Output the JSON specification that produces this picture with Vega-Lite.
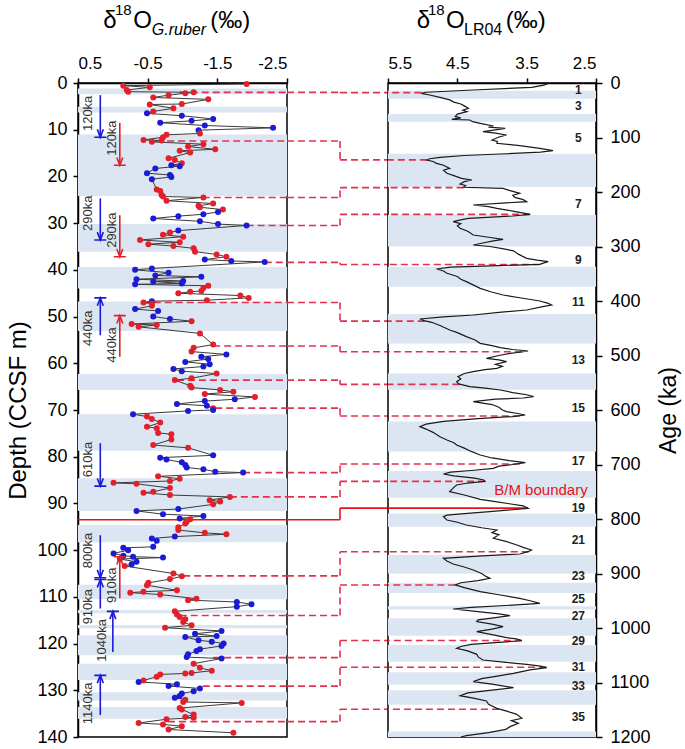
{
"$schema": "https://vega.github.io/schema/vega-lite/v6.json",
"autosize": {"type": "none"},
"padding": {"left": 78, "top": 83, "right": 607, "bottom": 666},
"background": "white",
"spacing": 0,
"bounds": "flush",
"config": {
 "font": "Liberation Sans",
 "view": {"stroke": "black", "strokeWidth": 1.5},
 "axis": {"grid": false, "domainColor": "black", "domainWidth": 1.5, "tickColor": "black", "tickWidth": 1.5, "labelColor": "black", "titleColor": "black", "labelFont": "Liberation Sans", "titleFont": "Liberation Sans", "titleFontWeight": "normal"}
},
"datasets": {
 "gruber": [
{"depth":0.2,"d18O":-1.92,"group":"red"},{"depth":0.57,"d18O":-0.15,"group":"red"},{"depth":0.93,"d18O":-0.53,"group":"red"},{"depth":1.5,"d18O":-0.2,"group":"red"},{"depth":1.86,"d18O":-0.22,"group":"red"},{"depth":2.0,"d18O":-1.16,"group":"red"},{"depth":2.2,"d18O":-1.04,"group":"red"},{"depth":2.6,"d18O":-0.8,"group":"red"},{"depth":3.1,"d18O":-0.58,"group":"red"},{"depth":3.5,"d18O":-1.37,"group":"red"},{"depth":4.5,"d18O":-0.99,"group":"red"},{"depth":4.6,"d18O":-0.53,"group":"red"},{"depth":5.4,"d18O":-0.87,"group":"red"},{"depth":6.1,"d18O":-0.58,"group":"red"},
{"depth":6.5,"d18O":-0.49,"group":"blue"},{"depth":7.0,"d18O":-0.99,"group":"blue"},{"depth":7.7,"d18O":-1.44,"group":"blue"},{"depth":8.1,"d18O":-1.13,"group":"blue"},{"depth":8.5,"d18O":-0.68,"group":"blue"},{"depth":9.1,"d18O":-1.32,"group":"blue"},{"depth":9.6,"d18O":-2.3,"group":"blue"},{"depth":10.1,"d18O":-1.23,"group":"blue"},
{"depth":10.8,"d18O":-1.25,"group":"red"},{"depth":11.1,"d18O":-0.77,"group":"red"},{"depth":11.6,"d18O":-0.72,"group":"red"},{"depth":12.2,"d18O":-0.44,"group":"red"},{"depth":12.3,"d18O":-0.7,"group":"red"},{"depth":12.6,"d18O":-0.56,"group":"red"},{"depth":13.1,"d18O":-1.3,"group":"red"},{"depth":13.6,"d18O":-1.08,"group":"red"},{"depth":14.2,"d18O":-1.47,"group":"red"},{"depth":14.5,"d18O":-0.96,"group":"red"},{"depth":14.9,"d18O":-1.11,"group":"red"},{"depth":16.1,"d18O":-0.8,"group":"red"},{"depth":16.5,"d18O":-0.89,"group":"red"},{"depth":17.2,"d18O":-0.99,"group":"red"},
{"depth":17.6,"d18O":-0.84,"group":"blue"},{"depth":17.8,"d18O":-0.96,"group":"blue"},{"depth":18.3,"d18O":-0.61,"group":"blue"},{"depth":19.3,"d18O":-0.49,"group":"blue"},{"depth":19.7,"d18O":-0.82,"group":"blue"},{"depth":20.1,"d18O":-0.84,"group":"blue"},{"depth":20.6,"d18O":-0.56,"group":"blue"},
{"depth":22.8,"d18O":-0.63,"group":"red"},{"depth":23.1,"d18O":-0.68,"group":"red"},{"depth":24.0,"d18O":-0.7,"group":"red"},{"depth":24.3,"d18O":-0.72,"group":"red"},{"depth":24.5,"d18O":-1.3,"group":"red"},{"depth":25.2,"d18O":-0.77,"group":"red"},{"depth":25.8,"d18O":-1.44,"group":"red"},{"depth":26.3,"d18O":-1.23,"group":"red"},{"depth":26.6,"d18O":-1.25,"group":"red"},{"depth":27.1,"d18O":-1.58,"group":"red"},
{"depth":27.6,"d18O":-1.51,"group":"blue"},{"depth":28.1,"d18O":-1.3,"group":"blue"},{"depth":28.5,"d18O":-0.94,"group":"blue"},{"depth":29.0,"d18O":-0.58,"group":"blue"},{"depth":29.6,"d18O":-1.25,"group":"blue"},{"depth":30.2,"d18O":-1.51,"group":"blue"},{"depth":30.5,"d18O":-1.92,"group":"blue"},{"depth":31.6,"d18O":-0.94,"group":"blue"},
{"depth":32.0,"d18O":-0.82,"group":"red"},{"depth":32.5,"d18O":-0.72,"group":"red"},{"depth":32.9,"d18O":-1.01,"group":"red"},{"depth":33.6,"d18O":-0.39,"group":"red"},{"depth":34.1,"d18O":-0.96,"group":"red"},{"depth":34.5,"d18O":-0.51,"group":"red"},{"depth":34.9,"d18O":-0.87,"group":"red"},{"depth":35.4,"d18O":-1.16,"group":"red"},{"depth":36.1,"d18O":-1.18,"group":"red"},{"depth":36.7,"d18O":-1.49,"group":"red"},{"depth":37.2,"d18O":-1.63,"group":"red"},
{"depth":37.8,"d18O":-1.32,"group":"blue"},{"depth":38.1,"d18O":-1.7,"group":"blue"},{"depth":38.3,"d18O":-2.18,"group":"blue"},{"depth":39.7,"d18O":-0.56,"group":"blue"},{"depth":40.0,"d18O":-0.32,"group":"blue"},{"depth":40.6,"d18O":-0.8,"group":"blue"},{"depth":41.2,"d18O":-0.61,"group":"blue"},{"depth":41.5,"d18O":-1.27,"group":"blue"},{"depth":42.0,"d18O":-0.34,"group":"blue"},{"depth":42.4,"d18O":-1.01,"group":"blue"},{"depth":42.5,"d18O":-0.58,"group":"blue"},{"depth":42.9,"d18O":-0.99,"group":"blue"},{"depth":43.1,"d18O":-0.32,"group":"blue"},
{"depth":43.4,"d18O":-1.37,"group":"red"},{"depth":43.9,"d18O":-1.3,"group":"red"},{"depth":44.5,"d18O":-1.27,"group":"red"},{"depth":44.7,"d18O":-1.11,"group":"red"},{"depth":45.0,"d18O":-0.94,"group":"red"},{"depth":45.5,"d18O":-1.83,"group":"red"},{"depth":46.0,"d18O":-1.95,"group":"red"},{"depth":46.5,"d18O":-1.35,"group":"red"},
{"depth":46.7,"d18O":-0.56,"group":"blue"},
{"depth":47.0,"d18O":-0.44,"group":"red"},{"depth":47.2,"d18O":-0.56,"group":"red"},{"depth":47.7,"d18O":-0.56,"group":"red"},
{"depth":48.4,"d18O":-0.32,"group":"blue"},{"depth":48.8,"d18O":-0.65,"group":"blue"},{"depth":50.0,"d18O":-0.58,"group":"blue"},{"depth":50.5,"d18O":-0.82,"group":"blue"},
{"depth":51.0,"d18O":-1.13,"group":"red"},{"depth":51.6,"d18O":-0.27,"group":"red"},{"depth":51.8,"d18O":-0.63,"group":"red"},{"depth":52.2,"d18O":-0.37,"group":"red"},{"depth":53.6,"d18O":-1.25,"group":"red"},{"depth":56.0,"d18O":-1.44,"group":"red"},{"depth":56.7,"d18O":-1.16,"group":"red"},{"depth":57.5,"d18O":-1.13,"group":"red"},
{"depth":58.1,"d18O":-1.63,"group":"blue"},{"depth":58.6,"d18O":-1.27,"group":"blue"},{"depth":59.1,"d18O":-1.37,"group":"blue"},{"depth":59.7,"d18O":-1.04,"group":"blue"},{"depth":60.2,"d18O":-1.39,"group":"blue"},{"depth":60.7,"d18O":-1.3,"group":"blue"},{"depth":61.2,"d18O":-0.87,"group":"blue"},{"depth":61.7,"d18O":-0.99,"group":"blue"},
{"depth":62.2,"d18O":-1.49,"group":"red"},{"depth":63.2,"d18O":-1.13,"group":"red"},{"depth":63.6,"d18O":-0.89,"group":"red"},{"depth":64.8,"d18O":-1.11,"group":"red"},{"depth":65.2,"d18O":-1.13,"group":"red"},{"depth":65.7,"d18O":-1.54,"group":"red"},{"depth":66.1,"d18O":-1.73,"group":"red"},{"depth":66.6,"d18O":-1.32,"group":"red"},{"depth":67.2,"d18O":-2.04,"group":"red"},
{"depth":67.7,"d18O":-1.75,"group":"blue"},{"depth":68.1,"d18O":-1.32,"group":"blue"},{"depth":68.7,"d18O":-0.92,"group":"blue"},{"depth":69.1,"d18O":-1.35,"group":"blue"},
{"depth":69.6,"d18O":-1.44,"group":"red"},
{"depth":70.0,"d18O":-1.44,"group":"blue"},{"depth":70.2,"d18O":-1.08,"group":"blue"},{"depth":70.9,"d18O":-0.29,"group":"blue"},
{"depth":71.4,"d18O":-0.49,"group":"red"},{"depth":71.9,"d18O":-0.56,"group":"red"},{"depth":72.7,"d18O":-0.68,"group":"red"},{"depth":73.6,"d18O":-0.49,"group":"red"},{"depth":73.9,"d18O":-0.63,"group":"red"},{"depth":74.9,"d18O":-0.65,"group":"red"},{"depth":75.2,"d18O":-0.84,"group":"red"},{"depth":76.3,"d18O":-0.84,"group":"red"},{"depth":77.5,"d18O":-0.58,"group":"red"},{"depth":78.1,"d18O":-1.08,"group":"red"},
{"depth":79.7,"d18O":-1.44,"group":"blue"},{"depth":80.2,"d18O":-0.68,"group":"blue"},{"depth":80.6,"d18O":-0.77,"group":"blue"},{"depth":81.2,"d18O":-0.99,"group":"blue"},{"depth":81.8,"d18O":-1.04,"group":"blue"},{"depth":82.3,"d18O":-1.06,"group":"blue"},{"depth":82.7,"d18O":-1.3,"group":"blue"},{"depth":83.2,"d18O":-1.47,"group":"blue"},{"depth":83.4,"d18O":-1.87,"group":"blue"},
{"depth":84.2,"d18O":-0.65,"group":"red"},{"depth":84.7,"d18O":-0.96,"group":"red"},{"depth":85.2,"d18O":-0.82,"group":"red"},{"depth":85.6,"d18O":-0.01,"group":"red"},{"depth":85.8,"d18O":-0.34,"group":"red"},{"depth":86.7,"d18O":-0.82,"group":"red"},{"depth":87.5,"d18O":-0.58,"group":"red"},{"depth":87.7,"d18O":-0.44,"group":"red"},{"depth":88.2,"d18O":-0.82,"group":"red"},{"depth":88.6,"d18O":-1.68,"group":"red"},{"depth":89.3,"d18O":-1.39,"group":"red"},{"depth":89.6,"d18O":-1.54,"group":"red"},{"depth":90.2,"d18O":-1.44,"group":"red"},
{"depth":91.2,"d18O":-0.94,"group":"blue"},{"depth":91.6,"d18O":-0.34,"group":"blue"},{"depth":92.3,"d18O":-0.72,"group":"blue"},{"depth":92.7,"d18O":-1.3,"group":"blue"},{"depth":93.2,"d18O":-0.96,"group":"blue"},
{"depth":93.4,"d18O":-1.11,"group":"red"},{"depth":93.9,"d18O":-1.06,"group":"red"},{"depth":94.3,"d18O":-1.04,"group":"red"},{"depth":95.1,"d18O":-0.94,"group":"red"},{"depth":95.7,"d18O":-0.94,"group":"red"},{"depth":96.3,"d18O":-1.32,"group":"red"},{"depth":96.6,"d18O":-1.63,"group":"red"},
{"depth":97.1,"d18O":-0.89,"group":"blue"},{"depth":97.5,"d18O":-0.56,"group":"blue"},{"depth":98.0,"d18O":-0.63,"group":"blue"},{"depth":99.3,"d18O":-0.58,"group":"blue"},{"depth":99.5,"d18O":-0.15,"group":"blue"},{"depth":100.0,"d18O":-0.22,"group":"blue"},{"depth":100.7,"d18O":-0.01,"group":"blue"},{"depth":101.2,"d18O":-0.15,"group":"blue"},{"depth":101.4,"d18O":-0.29,"group":"blue"},{"depth":101.6,"d18O":-0.72,"group":"blue"},
{"depth":101.9,"d18O":-0.1,"group":"red"},
{"depth":102.5,"d18O":-0.34,"group":"blue"},{"depth":103.0,"d18O":-0.27,"group":"blue"},
{"depth":103.4,"d18O":-0.17,"group":"red"},{"depth":105.0,"d18O":-0.87,"group":"red"},{"depth":105.6,"d18O":-0.99,"group":"red"},{"depth":106.2,"d18O":-0.82,"group":"red"},{"depth":107.0,"d18O":-0.51,"group":"red"},{"depth":107.5,"d18O":-0.49,"group":"red"},{"depth":108.6,"d18O":-0.92,"group":"red"},{"depth":108.9,"d18O":-0.44,"group":"red"},{"depth":109.1,"d18O":-0.25,"group":"red"},{"depth":109.5,"d18O":-0.68,"group":"red"},{"depth":110.4,"d18O":-1.2,"group":"red"},{"depth":110.7,"d18O":-1.08,"group":"red"},
{"depth":111.1,"d18O":-1.78,"group":"blue"},{"depth":111.6,"d18O":-1.99,"group":"blue"},{"depth":112.1,"d18O":-1.78,"group":"blue"},
{"depth":113.1,"d18O":-0.89,"group":"red"},{"depth":113.8,"d18O":-0.92,"group":"red"},{"depth":114.3,"d18O":-0.96,"group":"red"},{"depth":114.8,"d18O":-1.04,"group":"red"},{"depth":115.4,"d18O":-1.01,"group":"red"},{"depth":116.1,"d18O":-1.13,"group":"red"},{"depth":116.6,"d18O":-0.75,"group":"red"},
{"depth":117.3,"d18O":-1.56,"group":"blue"},{"depth":117.9,"d18O":-1.18,"group":"blue"},{"depth":118.4,"d18O":-1.49,"group":"blue"},{"depth":118.6,"d18O":-1.04,"group":"blue"},{"depth":119.3,"d18O":-1.23,"group":"blue"},{"depth":119.6,"d18O":-1.42,"group":"blue"},{"depth":120.0,"d18O":-1.59,"group":"blue"},{"depth":120.5,"d18O":-1.56,"group":"blue"},{"depth":121.2,"d18O":-1.25,"group":"blue"},{"depth":121.6,"d18O":-1.2,"group":"blue"},{"depth":122.3,"d18O":-1.08,"group":"blue"},{"depth":122.9,"d18O":-1.06,"group":"blue"},{"depth":123.2,"d18O":-1.56,"group":"blue"},
{"depth":124.3,"d18O":-1.16,"group":"red"},{"depth":125.2,"d18O":-1.25,"group":"red"},{"depth":125.8,"d18O":-1.42,"group":"red"},{"depth":126.3,"d18O":-1.13,"group":"red"},{"depth":126.4,"d18O":-1.04,"group":"red"},{"depth":126.6,"d18O":-0.68,"group":"red"},{"depth":127.1,"d18O":-0.63,"group":"red"},{"depth":127.9,"d18O":-0.44,"group":"red"},
{"depth":128.2,"d18O":-0.37,"group":"blue"},{"depth":128.7,"d18O":-0.92,"group":"blue"},{"depth":129.1,"d18O":-0.8,"group":"blue"},{"depth":129.6,"d18O":-1.25,"group":"blue"},{"depth":130.2,"d18O":-1.16,"group":"blue"},{"depth":130.7,"d18O":-0.99,"group":"blue"},{"depth":131.2,"d18O":-0.96,"group":"blue"},{"depth":131.6,"d18O":-0.89,"group":"blue"},
{"depth":132.0,"d18O":-1.04,"group":"red"},{"depth":132.5,"d18O":-1.01,"group":"red"},{"depth":132.7,"d18O":-1.85,"group":"red"},{"depth":133.8,"d18O":-0.96,"group":"red"},{"depth":134.1,"d18O":-0.99,"group":"red"},{"depth":135.2,"d18O":-1.16,"group":"red"},{"depth":135.7,"d18O":-1.04,"group":"red"},{"depth":135.9,"d18O":-1.16,"group":"red"},{"depth":136.2,"d18O":-0.77,"group":"red"},{"depth":137.0,"d18O":-0.37,"group":"red"},{"depth":137.3,"d18O":-0.72,"group":"red"},{"depth":137.7,"d18O":-0.99,"group":"red"},{"depth":138.4,"d18O":-0.8,"group":"red"},{"depth":139.1,"d18O":-1.73,"group":"red"}
 ],
 "lr04": [
{"age":0.6,"d18O":3.19},{"age":4,"d18O":3.25},{"age":8,"d18O":3.43},{"age":12.8,"d18O":4.27},{"age":17,"d18O":4.95},{"age":19,"d18O":5.02},{"age":22,"d18O":4.9},{"age":26.3,"d18O":4.75},{"age":31,"d18O":4.61},{"age":35,"d18O":4.55},{"age":38.5,"d18O":4.45},{"age":42,"d18O":4.4},{"age":46.5,"d18O":4.34},{"age":50,"d18O":4.42},{"age":52.6,"d18O":4.36},{"age":57,"d18O":4.5},{"age":61.8,"d18O":4.53},{"age":64,"d18O":4.45},{"age":66.7,"d18O":4.58},{"age":67.9,"d18O":4.32},{"age":71,"d18O":4.28},{"age":74,"d18O":4.17},{"age":78.9,"d18O":3.98},{"age":81,"d18O":4.05},{"age":83.2,"d18O":3.81},{"age":86,"d18O":3.95},{"age":89.3,"d18O":4.13},{"age":92,"d18O":3.95},{"age":95.4,"d18O":3.79},{"age":99,"d18O":3.9},{"age":104.6,"d18O":4.0},{"age":107,"d18O":3.92},{"age":110.7,"d18O":3.93},{"age":115,"d18O":3.6},{"age":119.9,"d18O":3.31},{"age":124.2,"d18O":3.12},{"age":127,"d18O":3.3},{"age":130.3,"d18O":3.88},{"age":133,"d18O":4.4},{"age":136.4,"d18O":4.75},{"age":139,"d18O":4.9},{"age":141.3,"d18O":4.94},{"age":144,"d18O":4.85},{"age":147.4,"d18O":4.8},{"age":151,"d18O":4.7},{"age":156.6,"d18O":4.61},{"age":160,"d18O":4.7},{"age":165.7,"d18O":4.65},{"age":170,"d18O":4.55},{"age":174.9,"d18O":4.44},{"age":178,"d18O":4.29},{"age":181,"d18O":4.4},{"age":185.3,"d18O":4.46},{"age":188,"d18O":4.38},{"age":191.4,"d18O":4.41},{"age":193.3,"d18O":3.84},{"age":197,"d18O":3.75},{"age":202.4,"d18O":3.6},{"age":206,"d18O":3.7},{"age":209.8,"d18O":3.67},{"age":214,"d18O":3.55},{"age":217.7,"d18O":3.5},{"age":220,"d18O":3.8},{"age":223.9,"d18O":4.27},{"age":227,"d18O":4.05},{"age":230,"d18O":3.93},{"age":235,"d18O":3.7},{"age":241,"d18O":3.45},{"age":244,"d18O":3.7},{"age":248.3,"d18O":4.34},{"age":251,"d18O":4.45},{"age":254.4,"d18O":4.56},{"age":258,"d18O":4.45},{"age":262,"d18O":4.5},{"age":266.7,"d18O":4.46},{"age":272,"d18O":4.35},{"age":278.9,"d18O":4.27},{"age":283,"d18O":4.05},{"age":286.9,"d18O":3.84},{"age":290,"d18O":4.0},{"age":294,"d18O":4.15},{"age":297.2,"d18O":4.27},{"age":300,"d18O":4.03},{"age":304,"d18O":3.85},{"age":308,"d18O":3.69},{"age":314,"d18O":3.62},{"age":321.7,"d18O":3.5},{"age":325,"d18O":3.35},{"age":327.8,"d18O":3.19},{"age":330,"d18O":3.25},{"age":332.7,"d18O":3.31},{"age":335,"d18O":3.9},{"age":338,"d18O":4.6},{"age":341.3,"d18O":4.8},{"age":345,"d18O":4.7},{"age":349.2,"d18O":4.65},{"age":355,"d18O":4.5},{"age":360,"d18O":4.45},{"age":364.5,"d18O":4.37},{"age":370,"d18O":4.28},{"age":376.8,"d18O":4.17},{"age":383,"d18O":4.02},{"age":389,"d18O":3.84},{"age":394,"d18O":3.6},{"age":400,"d18O":3.31},{"age":404,"d18O":3.2},{"age":407.3,"d18O":3.14},{"age":410,"d18O":3.25},{"age":416.5,"d18O":3.5},{"age":421,"d18O":3.9},{"age":425.7,"d18O":4.27},{"age":429,"d18O":4.7},{"age":433,"d18O":5.04},{"age":436,"d18O":4.98},{"age":439.1,"d18O":4.87},{"age":445,"d18O":4.75},{"age":453.2,"d18O":4.61},{"age":458,"d18O":4.5},{"age":465.4,"d18O":4.37},{"age":471,"d18O":4.25},{"age":477.7,"d18O":4.17},{"age":482,"d18O":4.0},{"age":485.6,"d18O":3.88},{"age":489,"d18O":3.7},{"age":491.7,"d18O":3.48},{"age":494,"d18O":3.6},{"age":496,"d18O":3.74},{"age":500,"d18O":3.9},{"age":505.2,"d18O":4.08},{"age":508,"d18O":3.9},{"age":511.3,"d18O":3.79},{"age":516,"d18O":3.95},{"age":520,"d18O":3.85},{"age":523.5,"d18O":3.93},{"age":526,"d18O":4.1},{"age":529.7,"d18O":4.27},{"age":533,"d18O":4.4},{"age":538.8,"d18O":4.49},{"age":543,"d18O":4.45},{"age":548,"d18O":4.51},{"age":552,"d18O":4.48},{"age":557.2,"d18O":4.32},{"age":560,"d18O":4.1},{"age":563.3,"d18O":3.88},{"age":568,"d18O":3.7},{"age":572,"d18O":3.5},{"age":575.5,"d18O":3.4},{"age":578,"d18O":3.55},{"age":580,"d18O":3.95},{"age":584.7,"d18O":4.27},{"age":590,"d18O":4.0},{"age":595,"d18O":3.9},{"age":600,"d18O":3.85},{"age":603,"d18O":3.79},{"age":606,"d18O":3.65},{"age":609.2,"d18O":3.52},{"age":612,"d18O":3.7},{"age":616,"d18O":4.2},{"age":621,"d18O":4.7},{"age":626,"d18O":4.95},{"age":630.6,"d18O":5.04},{"age":635,"d18O":4.95},{"age":641,"d18O":4.85},{"age":649,"d18O":4.75},{"age":655,"d18O":4.65},{"age":660,"d18O":4.55},{"age":664.3,"d18O":4.51},{"age":670,"d18O":4.4},{"age":676,"d18O":4.3},{"age":682.6,"d18O":4.17},{"age":688,"d18O":4.0},{"age":693,"d18O":3.75},{"age":696.7,"d18O":3.52},{"age":700,"d18O":3.7},{"age":703,"d18O":3.9},{"age":707.2,"d18O":3.98},{"age":711,"d18O":4.3},{"age":714,"d18O":4.6},{"age":717.4,"d18O":4.7},{"age":721,"d18O":4.55},{"age":725,"d18O":4.25},{"age":728.4,"d18O":4.12},{"age":731,"d18O":4.1},{"age":734,"d18O":4.35},{"age":737.6,"d18O":4.51},{"age":742,"d18O":4.55},{"age":749.8,"d18O":4.61},{"age":756,"d18O":4.4},{"age":763.9,"d18O":4.17},{"age":768,"d18O":3.95},{"age":772,"d18O":3.75},{"age":776,"d18O":3.55},{"age":780.4,"d18O":3.48},{"age":783,"d18O":3.7},{"age":786.5,"d18O":4.03},{"age":790,"d18O":4.4},{"age":793,"d18O":4.65},{"age":795.7,"d18O":4.7},{"age":801.8,"d18O":4.65},{"age":806,"d18O":4.5},{"age":811,"d18O":4.37},{"age":816,"d18O":4.15},{"age":820.2,"d18O":3.93},{"age":825,"d18O":4.0},{"age":829,"d18O":3.9},{"age":835.5,"d18O":3.98},{"age":841,"d18O":3.8},{"age":847.7,"d18O":3.64},{"age":852,"d18O":3.55},{"age":856.9,"d18O":3.43},{"age":860,"d18O":3.48},{"age":864.2,"d18O":3.6},{"age":868,"d18O":4.2},{"age":872.2,"d18O":4.7},{"age":877,"d18O":4.65},{"age":882.6,"d18O":4.56},{"age":888,"d18O":4.4},{"age":893.6,"d18O":4.27},{"age":900,"d18O":4.15},{"age":905.8,"d18O":4.08},{"age":908.9,"d18O":4.03},{"age":913,"d18O":4.2},{"age":917,"d18O":4.45},{"age":921,"d18O":4.53},{"age":926,"d18O":4.4},{"age":933.3,"d18O":4.17},{"age":939,"d18O":3.9},{"age":945.6,"d18O":3.6},{"age":950,"d18O":3.45},{"age":954.7,"d18O":3.31},{"age":958,"d18O":3.7},{"age":962,"d18O":4.3},{"age":965.1,"d18O":4.56},{"age":970,"d18O":4.2},{"age":974,"d18O":3.9},{"age":977.4,"d18O":3.74},{"age":981,"d18O":3.95},{"age":985,"d18O":4.2},{"age":988.4,"d18O":4.22},{"age":993,"d18O":4.0},{"age":997.6,"d18O":3.84},{"age":1002,"d18O":4.0},{"age":1006.7,"d18O":4.22},{"age":1012,"d18O":4.0},{"age":1017.7,"d18O":3.79},{"age":1020,"d18O":3.65},{"age":1023.2,"d18O":3.57},{"age":1026,"d18O":3.85},{"age":1030,"d18O":4.3},{"age":1034,"d18O":4.45},{"age":1037.3,"d18O":4.51},{"age":1042,"d18O":4.35},{"age":1048.3,"d18O":4.22},{"age":1053,"d18O":4.2},{"age":1058.7,"d18O":4.13},{"age":1063,"d18O":3.8},{"age":1066.7,"d18O":3.5},{"age":1070,"d18O":3.3},{"age":1072.8,"d18O":3.21},{"age":1077,"d18O":3.45},{"age":1083.2,"d18O":3.69},{"age":1088,"d18O":3.9},{"age":1093,"d18O":4.15},{"age":1098.5,"d18O":4.27},{"age":1103,"d18O":4.0},{"age":1109.5,"d18O":3.69},{"age":1114,"d18O":4.0},{"age":1119,"d18O":4.35},{"age":1124.2,"d18O":4.46},{"age":1129,"d18O":4.25},{"age":1134,"d18O":4.08},{"age":1140,"d18O":4.05},{"age":1147.4,"d18O":3.93},{"age":1152,"d18O":3.8},{"age":1158,"d18O":3.65},{"age":1165.7,"d18O":3.57},{"age":1170,"d18O":3.72},{"age":1175,"d18O":3.62},{"age":1181,"d18O":3.74},{"age":1186,"d18O":3.8},{"age":1192,"d18O":4.05},{"age":1197.6,"d18O":4.37},{"age":1200,"d18O":4.45}
 ],
 "gbands": [
{"top":1.2,"bottom":2.4},{"top":5.1,"bottom":6.3},{"top":11.0,"bottom":24.2},{"top":30.2,"bottom":36.1},{"top":39.4,"bottom":44.0},{"top":46.8,"bottom":53.1},{"top":62.3,"bottom":65.7},{"top":70.9,"bottom":78.7},{"top":84.6,"bottom":91.6},{"top":94.6,"bottom":98.3},{"top":107.4,"bottom":110.5},{"top":112.8,"bottom":113.5},{"top":116.0,"bottom":116.7},{"top":118.2,"bottom":122.5},{"top":124.3,"bottom":127.8},{"top":130.4,"bottom":132.2},{"top":133.6,"bottom":136.1}
 ],
 "abands": [
{"top":14,"bottom":29},{"top":57,"bottom":71},{"top":130,"bottom":191},{"top":242,"bottom":300},{"top":337,"bottom":374},{"top":424,"bottom":478},{"top":533,"bottom":563},{"top":621,"bottom":676},{"top":712,"bottom":761},{"top":790,"bottom":814},{"top":866,"bottom":900},{"top":917,"bottom":936},{"top":960,"bottom":966},{"top":982,"bottom":1014},{"top":1031,"bottom":1062},{"top":1081,"bottom":1104},{"top":1114,"bottom":1141},{"top":1190,"bottom":1200}
 ],
 "ties": [
{"depth":2.0,"gruber":-0.96,"age":17.7,"lr04":5.02,"kind":"tie"},
{"depth":12.4,"gruber":-0.78,"age":141,"lr04":4.94,"kind":"tie"},
{"depth":24.5,"gruber":-1.29,"age":192,"lr04":4.41,"kind":"tie"},
{"depth":30.5,"gruber":-1.92,"age":241,"lr04":3.45,"kind":"tie"},
{"depth":38.4,"gruber":-2.18,"age":333,"lr04":3.31,"kind":"tie"},
{"depth":47.0,"gruber":-0.43,"age":437,"lr04":4.97,"kind":"tie"},
{"depth":56.3,"gruber":-1.44,"age":493,"lr04":3.57,"kind":"tie"},
{"depth":63.6,"gruber":-0.92,"age":553,"lr04":4.47,"kind":"tie"},
{"depth":69.6,"gruber":-1.47,"age":611,"lr04":3.6,"kind":"tie"},
{"depth":83.4,"gruber":-1.87,"age":699,"lr04":3.6,"kind":"tie"},
{"depth":88.6,"gruber":-1.68,"age":731,"lr04":4.1,"kind":"tie"},
{"depth":93.5,"gruber":0.5,"age":780,"lr04":3.48,"kind":"bm"},
{"depth":105.5,"gruber":-1.01,"age":860,"lr04":3.47,"kind":"tie"},
{"depth":114.0,"gruber":-0.96,"age":921,"lr04":4.53,"kind":"tie"},
{"depth":123.0,"gruber":-1.44,"age":1023,"lr04":3.57,"kind":"tie"},
{"depth":129.1,"gruber":-1.29,"age":1072,"lr04":3.22,"kind":"tie"},
{"depth":136.7,"gruber":-0.79,"age":1149,"lr04":3.9,"kind":"tie"}
 ],
 "arrows": [
{"label":"120ka","group":"blue","dir":"down","x_arrow":0.18,"x_label":0.35,"tail":2.6,"tip":11.6,"label_y":6.5},
{"label":"120ka","group":"red","dir":"down","x_arrow":-0.1,"x_label":0.01,"tail":8.5,"tip":17.6,"label_y":11.8},
{"label":"290ka","group":"blue","dir":"down","x_arrow":0.18,"x_label":0.35,"tail":24.7,"tip":33.6,"label_y":27.9},
{"label":"290ka","group":"red","dir":"down","x_arrow":-0.1,"x_label":0.01,"tail":28.3,"tip":37.2,"label_y":31.5},
{"label":"440ka","group":"blue","dir":"up","x_arrow":0.18,"x_label":0.35,"tail":54.0,"tip":46.0,"label_y":52.5},
{"label":"440ka","group":"red","dir":"up","x_arrow":-0.1,"x_label":0.01,"tail":58.6,"tip":49.8,"label_y":56.1},
{"label":"610ka","group":"blue","dir":"down","x_arrow":0.18,"x_label":0.35,"tail":77.1,"tip":86.3,"label_y":80.6},
{"label":"800ka","group":"blue","dir":"down","x_arrow":0.18,"x_label":0.35,"tail":96.8,"tip":105.9,"label_y":100.1},
{"label":"910ka","group":"blue","dir":"up","x_arrow":0.18,"x_label":0.35,"tail":112.5,"tip":106.3,"label_y":112.1},
{"label":"910ka","group":"red","dir":"up","x_arrow":-0.1,"x_label":0.01,"tail":110.3,"tip":101.4,"label_y":107.5},
{"label":"1040ka","group":"blue","dir":"up","x_arrow":0.0,"x_label":0.16,"tail":121.8,"tip":113.1,"label_y":119.3},
{"label":"1140ka","group":"blue","dir":"up","x_arrow":0.18,"x_label":0.35,"tail":135.3,"tip":126.8,"label_y":132.8}
 ],
 "mis": [
{"age":13,"stage":"1"},{"age":42,"stage":"3"},{"age":101,"stage":"5"},{"age":222,"stage":"7"},{"age":325,"stage":"9"},{"age":402,"stage":"11"},{"age":509,"stage":"13"},{"age":597,"stage":"15"},{"age":693,"stage":"17"},{"age":779,"stage":"19"},{"age":838,"stage":"21"},{"age":904,"stage":"23"},{"age":947,"stage":"25"},{"age":978,"stage":"27"},{"age":1024,"stage":"29"},{"age":1071,"stage":"31"},{"age":1106,"stage":"33"},{"age":1163,"stage":"35"}
 ]
},
"hconcat": [
{
 "width": 209, "height": 654,
 "layer": [
  {"data": {"name": "gbands"}, "mark": {"type": "rect", "color": "#dce6f2"},
   "encoding": {
    "x": {"datum": 0.5, "type": "quantitative", "scale": {"domain": [0.5, -2.5], "nice": false, "zero": false}},
    "x2": {"datum": -2.5},
    "y": {"field": "top", "type": "quantitative", "scale": {"domain": [0, 140], "reverse": true, "nice": false, "zero": false},
      "axis": {"title": "Depth (CCSF m)", "orient": "left", "values": [0,10,20,30,40,50,60,70,80,90,100,110,120,130,140], "labelFontSize": 18, "titleFontSize": 24, "tickSize": 5, "labelPadding": 6, "titlePadding": 6}},
    "y2": {"field": "bottom"}}},
  {"data": {"name": "ties"}, "transform": [{"filter": "datum.kind == 'tie'"}],
   "mark": {"type": "rule", "color": "#e23050", "strokeDash": [7, 4], "strokeWidth": 1.6},
   "encoding": {
    "x": {"field": "gruber", "type": "quantitative", "scale": {"domain": [0.5, -2.5], "nice": false, "zero": false}},
    "x2": {"datum": -2.5},
    "y": {"field": "depth", "type": "quantitative", "scale": {"domain": [0, 140], "reverse": true, "nice": false, "zero": false}}}},
  {"data": {"name": "ties"}, "transform": [{"filter": "datum.kind == 'bm'"}],
   "mark": {"type": "rule", "color": "#e4141b", "strokeWidth": 1.6},
   "encoding": {
    "x": {"field": "gruber", "type": "quantitative", "scale": {"domain": [0.5, -2.5], "nice": false, "zero": false}},
    "x2": {"datum": -2.5},
    "y": {"field": "depth", "type": "quantitative", "scale": {"domain": [0, 140], "reverse": true, "nice": false, "zero": false}}}},
  {"data": {"name": "gruber"}, "mark": {"type": "line", "color": "#3a3a3a", "strokeWidth": 1},
   "encoding": {
    "x": {"field": "d18O", "type": "quantitative", "scale": {"domain": [0.5, -2.5], "nice": false, "zero": false},
      "axis": {"orient": "top", "title": null, "values": [0.5, -0.5, -1.5, -2.5], "labelFontSize": 17, "tickSize": 5, "labelPadding": 6, "labelExpr": "(datum.value < 0 ? '-' : '') + format(abs(datum.value), '.1f')"}},
    "y": {"field": "depth", "type": "quantitative", "scale": {"domain": [0, 140], "reverse": true, "nice": false, "zero": false}},
    "order": {"field": "depth", "type": "quantitative"}}},
  {"data": {"name": "gruber"}, "mark": {"type": "circle", "size": 36, "opacity": 1},
   "encoding": {
    "x": {"field": "d18O", "type": "quantitative", "scale": {"domain": [0.5, -2.5], "nice": false, "zero": false}},
    "y": {"field": "depth", "type": "quantitative", "scale": {"domain": [0, 140], "reverse": true, "nice": false, "zero": false}},
    "color": {"field": "group", "type": "nominal", "scale": {"domain": ["blue", "red"], "range": ["#1b1bd6", "#e3202a"]}, "legend": null}}},
  {"data": {"name": "arrows"}, "mark": {"type": "rule", "strokeWidth": 1.6},
   "encoding": {
    "x": {"field": "x_arrow", "type": "quantitative", "scale": {"domain": [0.5, -2.5], "nice": false, "zero": false}},
    "y": {"field": "tail", "type": "quantitative", "scale": {"domain": [0, 140], "reverse": true, "nice": false, "zero": false}},
    "y2": {"field": "tip"},
    "color": {"field": "group", "type": "nominal", "scale": {"domain": ["blue", "red"], "range": ["#1b1bd6", "#e3202a"]}, "legend": null}}},
  {"data": {"name": "arrows"}, "mark": {"type": "point", "filled": false, "size": 144, "strokeWidth": 1.6, "opacity": 1},
   "encoding": {
    "x": {"field": "x_arrow", "type": "quantitative", "scale": {"domain": [0.5, -2.5], "nice": false, "zero": false}},
    "y": {"field": "tip", "type": "quantitative", "scale": {"domain": [0, 140], "reverse": true, "nice": false, "zero": false}},
    "shape": {"field": "dir", "type": "nominal", "scale": {"domain": ["down", "up"], "range": ["M-0.5,-1.3L0,0L0.5,-1.3M-1,0L1,0", "M-0.5,1.3L0,0L0.5,1.3M-1,0L1,0"]}, "legend": null},
    "color": {"field": "group", "type": "nominal", "scale": {"domain": ["blue", "red"], "range": ["#1b1bd6", "#e3202a"]}, "legend": null}}},
  {"data": {"name": "arrows"}, "mark": {"type": "text", "angle": 270, "fontSize": 13, "color": "#333333", "align": "center", "baseline": "middle"},
   "encoding": {
    "x": {"field": "x_label", "type": "quantitative", "scale": {"domain": [0.5, -2.5], "nice": false, "zero": false}},
    "y": {"field": "label_y", "type": "quantitative", "scale": {"domain": [0, 140], "reverse": true, "nice": false, "zero": false}},
    "text": {"field": "label", "type": "nominal"}}},
  {"data": {"values": [{"t": "δ"}]}, "mark": {"type": "text", "fontSize": 24, "align": "left", "baseline": "alphabetic", "color": "black"},
   "encoding": {"text": {"field": "t", "type": "nominal"}, "x": {"datum": 0.137, "type": "quantitative", "scale": {"domain": [0.5, -2.5], "nice": false, "zero": false}}, "y": {"datum": -11.77, "type": "quantitative", "scale": {"domain": [0, 140], "reverse": true, "nice": false, "zero": false}}}},
  {"data": {"values": [{"t": "18"}]}, "mark": {"type": "text", "fontSize": 15, "align": "left", "baseline": "alphabetic", "color": "black"},
   "encoding": {"text": {"field": "t", "type": "nominal"}, "x": {"datum": -0.031, "type": "quantitative", "scale": {"domain": [0.5, -2.5], "nice": false, "zero": false}}, "y": {"datum": -14.6, "type": "quantitative", "scale": {"domain": [0, 140], "reverse": true, "nice": false, "zero": false}}}},
  {"data": {"values": [{"t": "O"}]}, "mark": {"type": "text", "fontSize": 24, "align": "left", "baseline": "alphabetic", "color": "black"},
   "encoding": {"text": {"field": "t", "type": "nominal"}, "x": {"datum": -0.294, "type": "quantitative", "scale": {"domain": [0.5, -2.5], "nice": false, "zero": false}}, "y": {"datum": -11.77, "type": "quantitative", "scale": {"domain": [0, 140], "reverse": true, "nice": false, "zero": false}}}},
  {"data": {"values": [{"t": "G.ruber"}]}, "mark": {"type": "text", "fontSize": 16, "fontStyle": "italic", "align": "left", "baseline": "alphabetic", "color": "black"},
   "encoding": {"text": {"field": "t", "type": "nominal"}, "x": {"datum": -0.56, "type": "quantitative", "scale": {"domain": [0.5, -2.5], "nice": false, "zero": false}}, "y": {"datum": -10.28, "type": "quantitative", "scale": {"domain": [0, 140], "reverse": true, "nice": false, "zero": false}}}},
  {"data": {"values": [{"t": "(‰)"}]}, "mark": {"type": "text", "fontSize": 24, "align": "left", "baseline": "alphabetic", "color": "black"},
   "encoding": {"text": {"field": "t", "type": "nominal"}, "x": {"datum": -1.4, "type": "quantitative", "scale": {"domain": [0.5, -2.5], "nice": false, "zero": false}}, "y": {"datum": -11.77, "type": "quantitative", "scale": {"domain": [0, 140], "reverse": true, "nice": false, "zero": false}}}}
 ]
},
{
 "width": 101, "height": 654,
 "view": {"stroke": null},
 "data": {"name": "ties"},
 "transform": [{"calculate": "datum.age * 140 / 1200", "as": "age_on_depth"}],
 "layer": [
  {"transform": [{"filter": "datum.kind == 'tie'"}], "mark": {"type": "rule", "color": "#e23050", "strokeDash": [7, 4], "strokeWidth": 1.6},
   "encoding": {"x": {"datum": 0, "type": "quantitative", "scale": {"domain": [0, 1], "nice": false}, "axis": null}, "x2": {"datum": 0.525},
    "y": {"field": "depth", "type": "quantitative", "scale": {"domain": [0, 140], "reverse": true, "nice": false, "zero": false}, "axis": null}}},
  {"transform": [{"filter": "datum.kind == 'tie'"}], "mark": {"type": "rule", "color": "#e23050", "strokeDash": [7, 4], "strokeWidth": 1.6},
   "encoding": {"x": {"datum": 0.525, "type": "quantitative", "scale": {"domain": [0, 1], "nice": false}, "axis": null},
    "y": {"field": "depth", "type": "quantitative", "scale": {"domain": [0, 140], "reverse": true, "nice": false, "zero": false}, "axis": null}, "y2": {"field": "age_on_depth"}}},
  {"transform": [{"filter": "datum.kind == 'tie'"}], "mark": {"type": "rule", "color": "#e23050", "strokeDash": [7, 4], "strokeWidth": 1.6},
   "encoding": {"x": {"datum": 0.525, "type": "quantitative", "scale": {"domain": [0, 1], "nice": false}, "axis": null}, "x2": {"datum": 1},
    "y": {"field": "age_on_depth", "type": "quantitative", "scale": {"domain": [0, 140], "reverse": true, "nice": false, "zero": false}, "axis": null}}},
  {"transform": [{"filter": "datum.kind == 'bm'"}], "mark": {"type": "rule", "color": "#e4141b", "strokeWidth": 1.6},
   "encoding": {"x": {"datum": 0, "type": "quantitative", "scale": {"domain": [0, 1], "nice": false}, "axis": null}, "x2": {"datum": 0.525},
    "y": {"field": "depth", "type": "quantitative", "scale": {"domain": [0, 140], "reverse": true, "nice": false, "zero": false}, "axis": null}}},
  {"transform": [{"filter": "datum.kind == 'bm'"}], "mark": {"type": "rule", "color": "#e4141b", "strokeWidth": 1.6},
   "encoding": {"x": {"datum": 0.525, "type": "quantitative", "scale": {"domain": [0, 1], "nice": false}, "axis": null},
    "y": {"field": "depth", "type": "quantitative", "scale": {"domain": [0, 140], "reverse": true, "nice": false, "zero": false}, "axis": null}, "y2": {"field": "age_on_depth"}}},
  {"transform": [{"filter": "datum.kind == 'bm'"}], "mark": {"type": "rule", "color": "#e4141b", "strokeWidth": 1.6},
   "encoding": {"x": {"datum": 0.525, "type": "quantitative", "scale": {"domain": [0, 1], "nice": false}, "axis": null}, "x2": {"datum": 1},
    "y": {"field": "age_on_depth", "type": "quantitative", "scale": {"domain": [0, 140], "reverse": true, "nice": false, "zero": false}, "axis": null}}}
 ]
},
{
 "width": 208, "height": 654,
 "layer": [
  {"data": {"name": "abands"}, "mark": {"type": "rect", "color": "#dce6f2"},
   "encoding": {
    "x": {"datum": 5.5, "type": "quantitative", "scale": {"domain": [5.5, 2.5], "nice": false, "zero": false}},
    "x2": {"datum": 2.5},
    "y": {"field": "top", "type": "quantitative", "scale": {"domain": [0, 1200], "reverse": true, "nice": false, "zero": false},
      "axis": {"title": "Age (ka)", "orient": "right", "values": [0,100,200,300,400,500,600,700,800,900,1000,1100,1200], "format": "d", "labelFontSize": 18, "titleFontSize": 23, "tickSize": 6, "labelPadding": 8, "titlePadding": 30, "titleAngle": 270}},
    "y2": {"field": "bottom"}}},
  {"data": {"name": "ties"}, "transform": [{"filter": "datum.kind == 'tie'"}],
   "mark": {"type": "rule", "color": "#e23050", "strokeDash": [7, 4], "strokeWidth": 1.6},
   "encoding": {
    "x": {"field": "lr04", "type": "quantitative", "scale": {"domain": [5.5, 2.5], "nice": false, "zero": false}},
    "x2": {"datum": 5.5},
    "y": {"field": "age", "type": "quantitative", "scale": {"domain": [0, 1200], "reverse": true, "nice": false, "zero": false}}}},
  {"data": {"name": "ties"}, "transform": [{"filter": "datum.kind == 'bm'"}],
   "mark": {"type": "rule", "color": "#e4141b", "strokeWidth": 1.6},
   "encoding": {
    "x": {"field": "lr04", "type": "quantitative", "scale": {"domain": [5.5, 2.5], "nice": false, "zero": false}},
    "x2": {"datum": 5.5},
    "y": {"field": "age", "type": "quantitative", "scale": {"domain": [0, 1200], "reverse": true, "nice": false, "zero": false}}}},
  {"data": {"name": "lr04"}, "mark": {"type": "line", "color": "#1a1a1a", "strokeWidth": 1.2},
   "encoding": {
    "x": {"field": "d18O", "type": "quantitative", "scale": {"domain": [5.5, 2.5], "nice": false, "zero": false},
      "axis": {"orient": "top", "title": null, "values": [5.5, 4.5, 3.5, 2.5], "labelFontSize": 17, "tickSize": 5, "labelPadding": 6, "format": ".1f"}},
    "y": {"field": "age", "type": "quantitative", "scale": {"domain": [0, 1200], "reverse": true, "nice": false, "zero": false}},
    "order": {"field": "age", "type": "quantitative"}}},
  {"data": {"name": "mis"}, "mark": {"type": "text", "fontSize": 12, "fontWeight": "bold", "color": "#222222", "align": "center", "baseline": "middle"},
   "encoding": {
    "x": {"datum": 2.755, "type": "quantitative", "scale": {"domain": [5.5, 2.5], "nice": false, "zero": false}},
    "y": {"field": "age", "type": "quantitative", "scale": {"domain": [0, 1200], "reverse": true, "nice": false, "zero": false}},
    "text": {"field": "stage", "type": "nominal"}}},
  {"data": {"values": [{"t": "B/M boundary"}]}, "mark": {"type": "text", "fontSize": 15, "color": "#e4141b", "align": "right", "baseline": "middle"},
   "encoding": {"text": {"field": "t", "type": "nominal"}, "x": {"datum": 2.62, "type": "quantitative", "scale": {"domain": [5.5, 2.5], "nice": false, "zero": false}}, "y": {"datum": 746, "type": "quantitative", "scale": {"domain": [0, 1200], "reverse": true, "nice": false, "zero": false}}}},
  {"data": {"values": [{"t": "δ"}]}, "mark": {"type": "text", "fontSize": 24, "align": "left", "baseline": "alphabetic", "color": "black"},
   "encoding": {"text": {"field": "t", "type": "nominal"}, "x": {"datum": 5.086, "type": "quantitative", "scale": {"domain": [5.5, 2.5], "nice": false, "zero": false}}, "y": {"datum": -100.9, "type": "quantitative", "scale": {"domain": [0, 1200], "reverse": true, "nice": false, "zero": false}}}},
  {"data": {"values": [{"t": "18"}]}, "mark": {"type": "text", "fontSize": 15, "align": "left", "baseline": "alphabetic", "color": "black"},
   "encoding": {"text": {"field": "t", "type": "nominal"}, "x": {"datum": 4.923, "type": "quantitative", "scale": {"domain": [5.5, 2.5], "nice": false, "zero": false}}, "y": {"datum": -125, "type": "quantitative", "scale": {"domain": [0, 1200], "reverse": true, "nice": false, "zero": false}}}},
  {"data": {"values": [{"t": "O"}]}, "mark": {"type": "text", "fontSize": 24, "align": "left", "baseline": "alphabetic", "color": "black"},
   "encoding": {"text": {"field": "t", "type": "nominal"}, "x": {"datum": 4.663, "type": "quantitative", "scale": {"domain": [5.5, 2.5], "nice": false, "zero": false}}, "y": {"datum": -100.9, "type": "quantitative", "scale": {"domain": [0, 1200], "reverse": true, "nice": false, "zero": false}}}},
  {"data": {"values": [{"t": "LR04"}]}, "mark": {"type": "text", "fontSize": 16, "align": "left", "baseline": "alphabetic", "color": "black"},
   "encoding": {"text": {"field": "t", "type": "nominal"}, "x": {"datum": 4.404, "type": "quantitative", "scale": {"domain": [5.5, 2.5], "nice": false, "zero": false}}, "y": {"datum": -88.1, "type": "quantitative", "scale": {"domain": [0, 1200], "reverse": true, "nice": false, "zero": false}}}},
  {"data": {"values": [{"t": "(‰)"}]}, "mark": {"type": "text", "fontSize": 24, "align": "left", "baseline": "alphabetic", "color": "black"},
   "encoding": {"text": {"field": "t", "type": "nominal"}, "x": {"datum": 3.8, "type": "quantitative", "scale": {"domain": [5.5, 2.5], "nice": false, "zero": false}}, "y": {"datum": -100.9, "type": "quantitative", "scale": {"domain": [0, 1200], "reverse": true, "nice": false, "zero": false}}}}
 ]
}
]
}
